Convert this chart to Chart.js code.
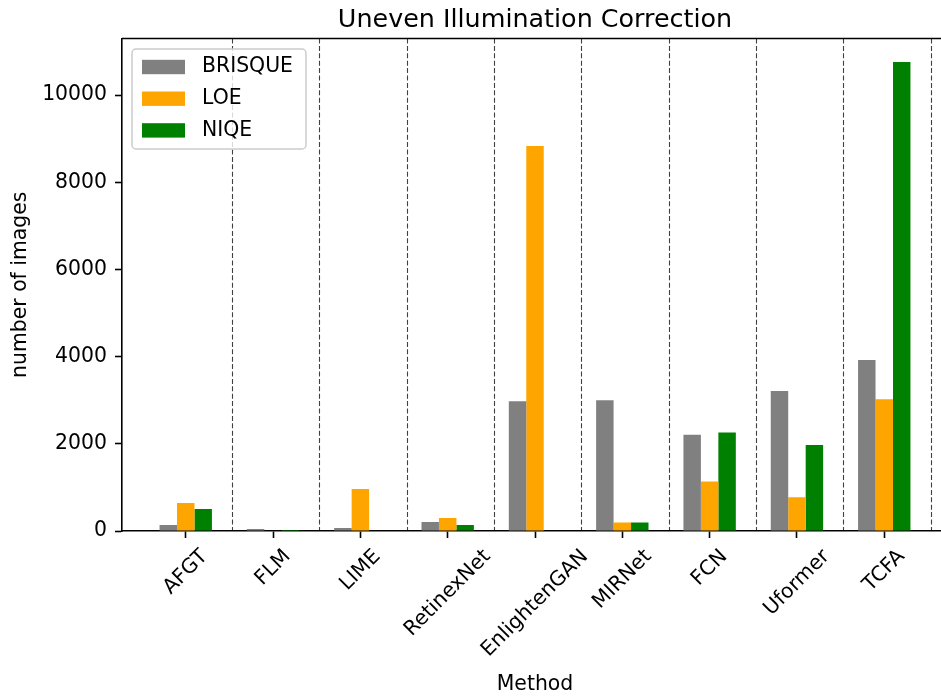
<!DOCTYPE html>
<html>
<head>
<meta charset="utf-8">
<script src="https://cdn.jsdelivr.net/npm/chart.js@4.4.1/dist/chart.umd.min.js"></script>
<style>
  html, body { margin:0; padding:0; background:#fff; overflow:hidden; }
  #wrap { width:941px; height:697px; overflow:hidden; }
  #chart { display:block; }
</style>
</head>
<body>
<div id="wrap"><canvas id="chart" width="970" height="697"></canvas></div>
<script>
// images counted per method, one array per metric
const methods = ['AFGT', 'FLM', 'LIME', 'RetinexNet', 'EnlightenGAN', 'MIRNet', 'FCN', 'Uformer', 'TCFA'];
const brisque = [140, 45, 70, 205, 2975, 3000, 2210, 3210, 3920];
const loe     = [645, 0, 965, 300, 8830, 195, 1135, 775, 3025];
const niqe    = [505, 25, 0, 140, 0, 195, 2260, 1970, 10760];
const yTicks  = [0, 2000, 4000, 6000, 8000, 10000];

const FONT = 'DejaVu Sans';
const FS = 20.4;           // 10pt
const TICK_LEN = 7;
const SEP_OFFSET = 0.53;   // dashed separators sit just right of each group

// autoscale like the usual 5% margins
const allVals = brisque.concat(loe, niqe);
const yMax = Math.max(...allVals) * 1.05;
const xSpan = (methods.length - 1) + 0.6;
const xMin = -0.3 - 0.05 * xSpan;
const xMax = methods.length - 1 + 0.3 + 0.05 * xSpan;

const toXY = arr => arr.map((v, i) => ({ x: i, y: v }));

// title, frame, separators, rotated labels and legend
const decor = {
  id: 'decor',
  beforeDatasetsDraw(chart) {
    const { ctx, chartArea: a, scales: { x } } = chart;
    ctx.save();
    ctx.strokeStyle = 'rgba(0,0,0,0.75)';
    ctx.lineWidth = 1.1;
    ctx.setLineDash([5, 2.4]);
    methods.forEach((_, i) => {
      const px = Math.round(x.getPixelForValue(i + SEP_OFFSET)) + 0.5;
      ctx.beginPath();
      ctx.moveTo(px, a.top);
      ctx.lineTo(px, a.bottom);
      ctx.stroke();
    });
    ctx.restore();
  },
  afterDraw(chart) {
    const { ctx, chartArea: a, scales: { x } } = chart;
    ctx.save();

    // top and right spines
    ctx.strokeStyle = '#000';
    ctx.lineWidth = 1.6;
    ctx.beginPath();
    ctx.moveTo(a.left, a.top);
    ctx.lineTo(a.right, a.top);
    ctx.lineTo(a.right, a.bottom);
    ctx.stroke();

    // title
    ctx.fillStyle = '#000';
    ctx.font = `25.4px "${FONT}"`;
    ctx.textAlign = 'center';
    ctx.textBaseline = 'alphabetic';
    ctx.fillText('Uneven Illumination Correction', (a.left + a.right) / 2, a.top - 12);

    // x tick labels, rotated 45 degrees with the box centred on the tick
    ctx.font = `${FS}px "${FONT}"`;
    ctx.textBaseline = 'middle';
    const h = 1.164 * FS;
    methods.forEach((m, i) => {
      const w = ctx.measureText(m).width;
      const side = (w + h) / Math.SQRT2;
      const cx = x.getPixelForValue(i);
      const cy = a.bottom + TICK_LEN + 7 + side / 2;
      ctx.save();
      ctx.translate(cx, cy);
      ctx.rotate(-Math.PI / 4);
      ctx.fillText(m, 0, 0);
      ctx.restore();
    });

    // legend box in the upper left
    const lx = a.left + 10, ly = a.top + 10.5, lw = 174, lh = 100;
    ctx.fillStyle = 'rgba(255,255,255,0.8)';
    ctx.strokeStyle = '#cccccc';
    ctx.lineWidth = 1.5;
    ctx.beginPath();
    ctx.roundRect(lx, ly, lw, lh, 4);
    ctx.fill();
    ctx.stroke();
    ctx.textAlign = 'left';
    chart.data.datasets.forEach((ds, i) => {
      const ry = ly + 18 + i * 31.7;
      ctx.fillStyle = ds.backgroundColor;
      ctx.fillRect(lx + 10, ry - 7.2, 43, 14.4);
      ctx.fillStyle = '#000';
      ctx.fillText(ds.label, lx + 70, ry);
    });
    ctx.restore();
  }
};

new Chart(document.getElementById('chart'), {
  type: 'bar',
  data: {
    datasets: [
      { label: 'BRISQUE', data: toXY(brisque), backgroundColor: '#808080' },
      { label: 'LOE',     data: toXY(loe),     backgroundColor: '#ffa500' },
      { label: 'NIQE',    data: toXY(niqe),    backgroundColor: '#008000' }
    ]
  },
  options: {
    responsive: false,
    devicePixelRatio: 1,
    animation: false,
    categoryPercentage: 0.6,
    barPercentage: 1.0,
    layout: { padding: { top: 38.5, right: 22, left: 0, bottom: 0 } },
    plugins: { legend: { display: false }, tooltip: { enabled: false }, title: { display: false } },
    scales: {
      x: {
        type: 'linear',
        min: xMin, max: xMax,
        offset: false,
        afterBuildTicks: s => { s.ticks = methods.map((_, i) => ({ value: i })); },
        afterFit: s => { s.height = 166; },
        ticks: { display: false },
        grid: { offset: false, drawOnChartArea: false, drawTicks: true, tickLength: TICK_LEN, tickColor: '#000', tickWidth: 1.6 },
        border: { display: true, color: '#000', width: 1.6 },
        title: { display: true, text: 'Method', color: '#000', font: { family: FONT, size: FS, lineHeight: 1 }, padding: { top: 0, bottom: 2.5 } }
      },
      y: {
        min: 0, max: yMax,
        afterBuildTicks: s => { s.ticks = yTicks.map(v => ({ value: v })); },
        afterFit: s => { s.width = 122; },
        ticks: { color: '#000', font: { family: FONT, size: FS }, padding: 8, callback: v => String(v) },
        grid: { drawOnChartArea: false, drawTicks: true, tickLength: TICK_LEN, tickColor: '#000', tickWidth: 1.6 },
        border: { display: true, color: '#000', width: 1.6 },
        title: { display: true, text: 'number of images', color: '#000', font: { family: FONT, size: FS }, padding: { top: 8, bottom: 0 } }
      }
    }
  },
  plugins: [decor]
});
</script>
</body>
</html>
